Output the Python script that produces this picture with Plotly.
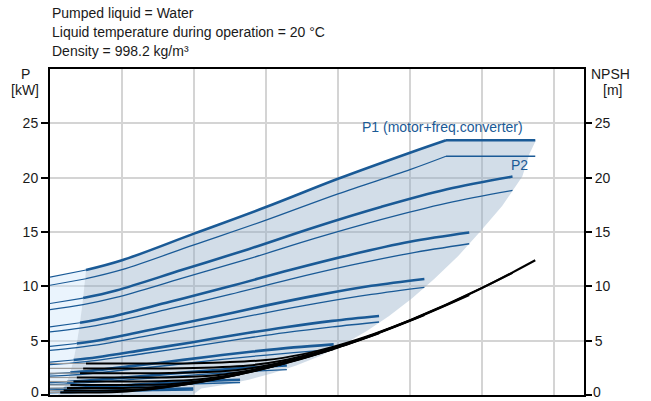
import plotly.graph_objects as go

# ---------------- data ----------------
X_MAX = 74.17            # flow axis range (no tick labels shown), gridlines every 10
grid_x = [10, 20, 30, 40, 50, 60, 70]
y_ticks = [0, 5, 10, 15, 20, 25]
y_ticktext = ["", "5", "10", "15", "20", "25"]   # "0" drawn as annotation (kept inside the page)

# top (max) curve, P1 / P2 in kW
top_thin_x = [0, 5]
top_p1_thin = [10.85, 11.5]
top_p2_thin = [10.1, 10.7]
top_x = [5, 10, 20, 30, 40, 50, 55]
top_p1 = [11.5, 12.4, 14.85, 17.3, 19.9, 22.3, 23.45]
top_p2 = [10.7, 11.53, 13.81, 16.09, 18.51, 20.74, 21.97]
flat_x = [55, 67.4]
flat_p1 = [23.45, 23.45]
flat_p2 = [21.97, 21.97]
top_nq = [5, 10, 20, 30, 35, 40, 45, 50, 60, 67.4]
top_npsh = [2.90, 2.90, 2.92, 3.22, 3.74, 4.57, 5.63, 6.88, 9.85, 12.40]

# lower speed curves
speed_q = [
    [0, 4.6, 9.19, 18.38, 27.57, 36.76, 45.95, 55.14, 64.24],
    [0, 4.17, 8.33, 16.66, 24.99, 33.32, 41.65, 49.98, 58.23],
    [0, 3.72, 7.44, 14.88, 22.32, 29.76, 37.2, 44.64, 52.0],
    [0, 3.27, 6.54, 13.08, 19.62, 26.16, 32.7, 39.24, 45.7],
    [0, 2.82, 5.64, 11.28, 16.92, 22.56, 28.2, 33.84, 39.4],
    [0, 2.36, 4.71, 9.42, 14.13, 18.84, 23.55, 28.26, 32.9],
    [0, 1.89, 3.78, 7.56, 11.34, 15.12, 18.9, 22.68, 26.4],
    [0, 1.43, 2.85, 5.7, 8.55, 11.4, 14.25, 17.1, 19.9],
]
speed_p1 = [
    [8.42, 8.92, 9.62, 11.52, 13.42, 15.44, 17.30, 18.93, 20.1],
    [6.27, 6.65, 7.17, 8.58, 10.0, 11.50, 12.89, 14.10, 14.95],
    [4.47, 4.74, 5.11, 6.12, 7.13, 8.20, 9.19, 10.05, 10.68],
    [3.03, 3.22, 3.47, 4.15, 4.84, 5.57, 6.24, 6.82, 7.27],
    [1.95, 2.06, 2.22, 2.66, 3.10, 3.57, 4.0, 4.38, 4.66],
    [1.13, 1.20, 1.30, 1.55, 1.81, 2.08, 2.33, 2.55, 2.72],
    [0.59, 0.62, 0.67, 0.80, 0.93, 1.07, 1.20, 1.32, 1.40],
    [0.25, 0.27, 0.29, 0.34, 0.40, 0.46, 0.52, 0.56, 0.60],
]
speed_p2 = [
    [7.86, 8.32, 8.98, 10.75, 12.52, 14.41, 16.14, 17.66, 18.83],
    [5.8, 6.15, 6.63, 7.94, 9.25, 10.64, 11.92, 13.04, 13.92],
    [4.11, 4.36, 4.70, 5.63, 6.56, 7.54, 8.45, 9.25, 9.9],
    [2.79, 2.96, 3.19, 3.82, 4.45, 5.12, 5.74, 6.27, 6.72],
    [1.74, 1.83, 1.98, 2.37, 2.76, 3.18, 3.56, 3.90, 4.2],
    [0.97, 1.03, 1.12, 1.33, 1.56, 1.79, 2.0, 2.19, 2.34],
    [0.48, 0.51, 0.55, 0.66, 0.76, 0.88, 0.98, 1.08, 1.15],
    [0.19, 0.21, 0.22, 0.26, 0.30, 0.35, 0.40, 0.43, 0.46],
]
speed_nq = [
    [4.6, 9.19, 18.38, 27.57, 32.17, 36.76, 41.36, 45.95, 55.14, 64.24],
    [4.17, 8.33, 16.66, 24.99, 29.16, 33.32, 37.49, 41.65, 49.98, 58.23],
    [3.72, 7.44, 14.88, 22.32, 26.04, 29.76, 33.48, 37.2, 44.64, 52.0],
    [3.27, 6.54, 13.08, 19.62, 22.89, 26.16, 29.43, 32.7, 39.24, 45.7],
    [2.82, 5.64, 11.28, 16.92, 19.74, 22.56, 25.38, 28.2, 33.84, 39.4],
    [2.36, 4.71, 9.42, 14.13, 16.49, 18.84, 21.2, 23.55, 28.26, 32.9],
    [1.89, 3.78, 7.56, 11.34, 13.23, 15.12, 17.01, 18.9, 22.68, 26.4],
    [1.43, 2.85, 5.7, 8.55, 9.98, 11.4, 12.83, 14.25, 17.1, 19.9],
]
speed_npsh = [
    [2.45, 2.45, 2.46, 2.72, 3.16, 3.86, 4.76, 5.81, 8.32, 11.24],
    [2.01, 2.01, 2.02, 2.23, 2.60, 3.17, 3.91, 4.77, 6.84, 9.2],
    [1.61, 1.61, 1.61, 1.78, 2.07, 2.53, 3.12, 3.81, 5.45, 7.35],
    [1.24, 1.24, 1.25, 1.38, 1.60, 1.95, 2.41, 2.94, 4.21, 5.68],
    [0.92, 0.92, 0.93, 1.02, 1.19, 1.45, 1.79, 2.19, 3.13, 4.24],
    [0.64, 0.64, 0.65, 0.71, 0.83, 1.01, 1.25, 1.53, 2.18, 2.96],
    [0.41, 0.41, 0.42, 0.46, 0.53, 0.65, 0.80, 0.98, 1.41, 1.91],
    [0.24, 0.24, 0.24, 0.26, 0.30, 0.37, 0.46, 0.56, 0.80, 1.08],
]

# shaded operating area boundaries
qmin_x = [5, 4.6, 4.17, 3.72, 3.27, 2.82, 2.36, 1.89, 1.43, 1.1]
qmin_y = [11.5, 8.92, 6.65, 4.74, 3.22, 2.06, 1.2, 0.62, 0.27, 0.0]
edge_x = [67.5, 66.6, 65.6, 62.8, 59.7, 56.7, 53.4, 50.3, 47.1, 44.0, 40.8,
          37.5, 34.2, 30.9, 27.6, 24.3, 21.0, 19.8]
edge_y = [23.45, 22.2, 20.1, 17.4, 15.0, 12.8, 10.7, 8.9, 7.27, 5.9, 4.66,
          3.6, 2.72, 2.0, 1.40, 0.95, 0.6, 0.0]

header_lines = ["Pumped liquid = Water",
                "Liquid temperature during operation = 20 °C",
                "Density = 998.2 kg/m³"]

# ---------------- styles ----------------
BLUE = "#1a5a96"
FONT = "Liberation Sans, Arial, sans-serif"

fig = go.Figure()

# light region (below minimum flow)
fig.add_trace(go.Scatter(
    x=[0] + top_thin_x + qmin_x[1:],
    y=[0] + top_p1_thin + qmin_y[1:],
    fill="toself", fillcolor="rgba(202,227,250,0.4)", mode="none",
    hoverinfo="skip"))

# main operating region
fig.add_trace(go.Scatter(
    x=top_x + flat_x[1:] + edge_x + qmin_x[::-1],
    y=top_p1 + flat_p1[1:] + edge_y + qmin_y[::-1],
    fill="toself", fillcolor="rgba(143,170,198,0.4)", mode="none",
    hoverinfo="skip"))


def line(x, y, width, color=BLUE, yaxis="y", shape="spline"):
    fig.add_trace(go.Scatter(x=x, y=y, mode="lines", yaxis=yaxis,
                             line=dict(color=color, width=width, shape=shape),
                             hoverinfo="skip"))


# top curve
line(top_thin_x, top_p1_thin, 1.2, shape="linear")
line(top_thin_x, top_p2_thin, 1.2, shape="linear")
line(top_x, top_p1, 2.6)
line(flat_x, flat_p1, 2.6, shape="linear")
line(top_x, top_p2, 1.3)
line(flat_x, flat_p2, 1.3, shape="linear")

# lower speeds
for q, p1, p2 in zip(speed_q, speed_p1, speed_p2):
    line(q[:2], p1[:2], 1.2, shape="linear")
    line(q[1:], p1[1:], 2.6)
    line(q, p2, 1.3)

# NPSH curves
for nq, n in zip([top_nq] + speed_nq, [top_npsh] + speed_npsh):
    line([0, nq[0]], [n[0], n[0]], 1.2, color="#9a9a9a", yaxis="y2", shape="linear")
    line(nq, n, 2.0, color="black", yaxis="y2")

# ---------------- annotations ----------------
ann = []
for txt, py in zip(header_lines, [12.5, 32, 50.5]):
    ann.append(dict(text=txt, x=0, y=(395 - py) / 326, xref="paper", yref="paper",
                    xanchor="left", yanchor="middle", showarrow=False,
                    font=dict(size=14, color="#1a1a1a", family=FONT)))
for txt, px, py in [("P", 25, 74), ("[kW]", 25, 90), ("NPSH", 610, 74), ("[m]", 612, 90)]:
    ann.append(dict(text=txt, x=(px - 50) / 534, y=(395 - py) / 326, xref="paper",
                    yref="paper", xanchor="center", yanchor="middle", showarrow=False,
                    font=dict(size=14, color="#1a1a1a", family=FONT)))
# zero labels of both vertical axes
for px, anchor in [(41, "right"), (591, "left")]:
    ann.append(dict(text="0", x=(px - 50) / 534, y=(395 - 392) / 326, xref="paper",
                    yref="paper", xanchor=anchor, yanchor="middle", showarrow=False,
                    font=dict(size=14, color="#1a1a1a", family=FONT)))
ann.append(dict(text="P1 (motor+freq.converter)", x=66.0, y=24.66, xref="x", yref="y",
                xanchor="right", yanchor="middle", showarrow=False,
                font=dict(size=14, color=BLUE, family=FONT)))
ann.append(dict(text="P2", x=66.7, y=21.14, xref="x", yref="y",
                xanchor="right", yanchor="middle", showarrow=False,
                font=dict(size=14, color=BLUE, family=FONT)))

fig.update_layout(
    width=651, height=401,
    margin=dict(l=50, r=67, t=69, b=6, autoexpand=False),
    plot_bgcolor="white", paper_bgcolor="white",
    showlegend=False,
    font=dict(family=FONT, size=14, color="#1a1a1a"),
    annotations=ann,
    xaxis=dict(range=[0, X_MAX], tickvals=grid_x, showticklabels=False, ticks="",
               showgrid=True, gridcolor="#d4d4d4", gridwidth=1.5,
               showline=True, linecolor="black", linewidth=2, mirror=True,
               zeroline=False, fixedrange=True),
    yaxis=dict(range=[0, 30], tickvals=y_ticks, ticktext=y_ticktext, ticks="outside",
               ticklen=7, tickwidth=1.5, tickcolor="black", showgrid=True,
               gridcolor="#d4d4d4", gridwidth=1.5, showline=True, linecolor="black",
               linewidth=2, zeroline=False, automargin=False),
    yaxis2=dict(range=[0, 30], tickvals=y_ticks, ticktext=y_ticktext, ticks="outside",
                ticklen=6, tickwidth=1.5, tickcolor="black", overlaying="y", side="right",
                showgrid=False, showline=True, linecolor="black", linewidth=2,
                zeroline=False, automargin=False),
)

fig.write_html("out.html",
               config={"displayModeBar": False},
               post_script="document.body.style.margin='0';"
                           "document.body.style.overflow='hidden';")
